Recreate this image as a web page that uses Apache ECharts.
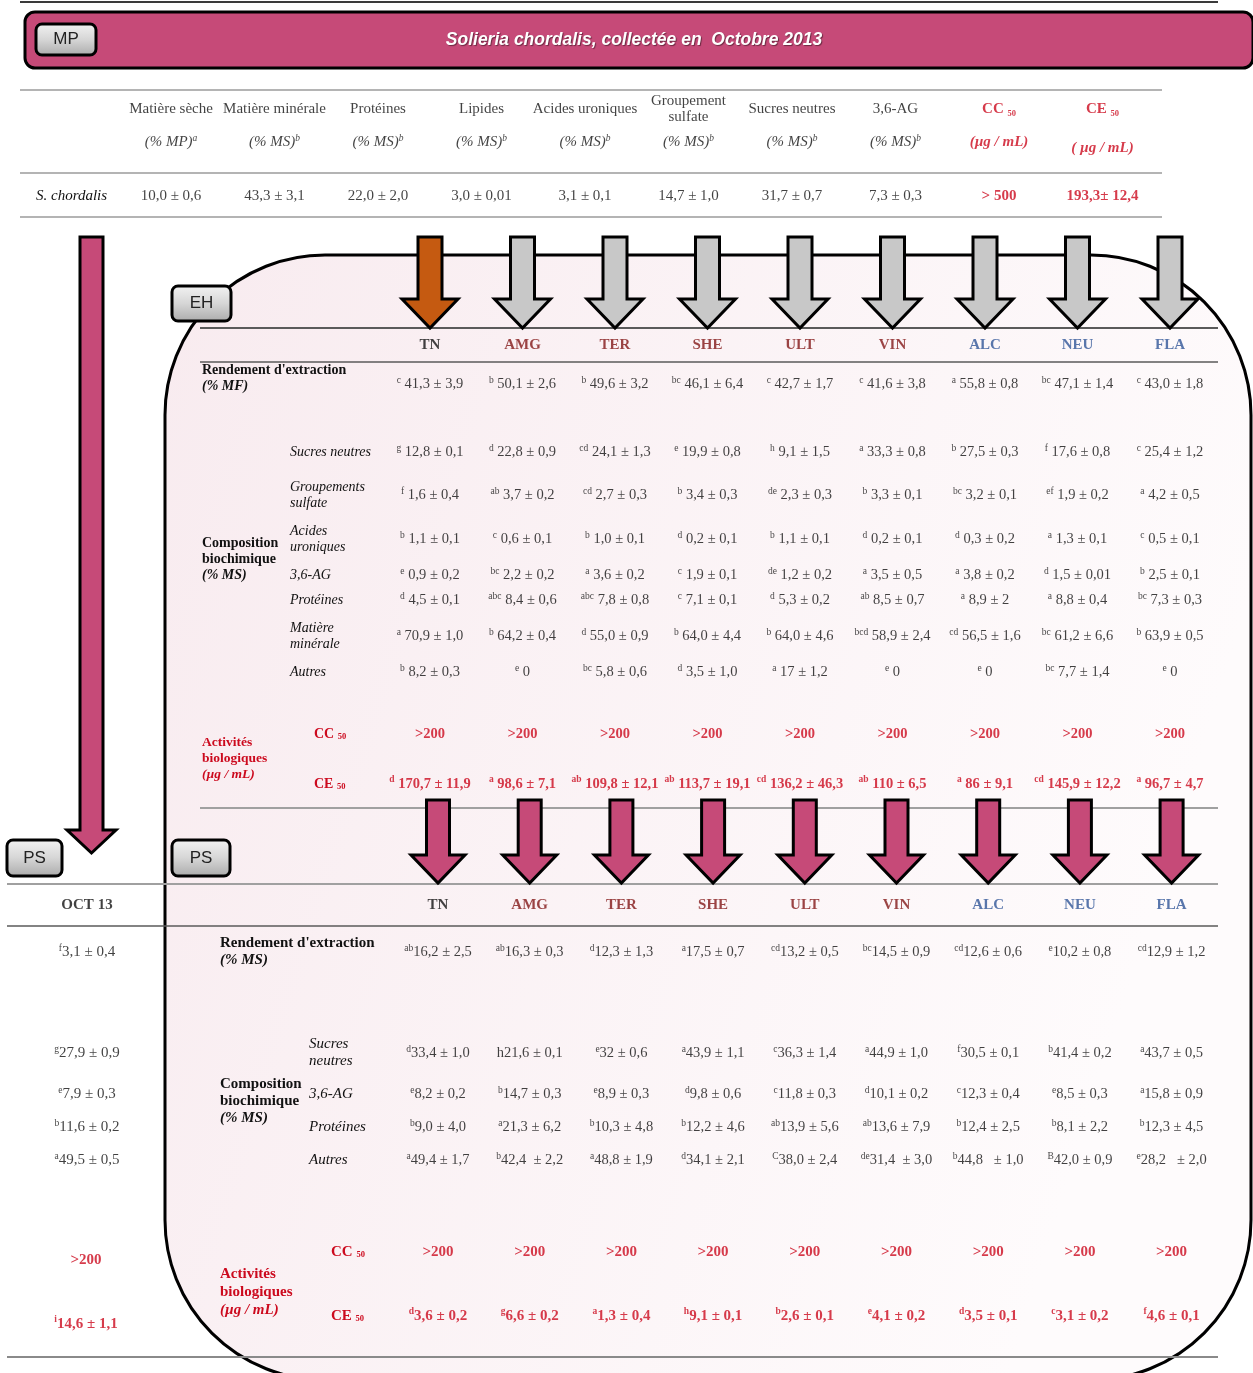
<!DOCTYPE html>
<html><head><meta charset="utf-8">
<script src="https://cdn.jsdelivr.net/npm/echarts@6/dist/echarts.min.js"></script>
<style>html,body{margin:0;padding:0;background:#fff}#c{width:1253px;height:1373px}</style>
</head><body><div id="c"></div>
<script>
// ================= DATA =================
// Raw material (MP)
const mpTitle = 'Solieria chordalis, collectée en  Octobre 2013';
const mpColumns = ['Matière sèche','Matière minérale','Protéines','Lipides','Acides uroniques','Groupement\nsulfate','Sucres neutres','3,6-AG','CC 50','CE 50'];
const mpUnits = ['(% MP)','(% MS)','(% MS)','(% MS)','(% MS)','(% MS)','(% MS)','(% MS)','(µg / mL)','( µg / mL)'];
const mpUnitNotes = ['a','b','b','b','b','b','b','b','',''];
const mpSample = 'S. chordalis';
const mpValues = ['10,0 ± 0,6','43,3 ± 3,1','22,0 ± 2,0','3,0 ± 0,01','3,1 ± 0,1','14,7 ± 1,0','31,7 ± 0,7','7,3 ± 0,3','> 500','193,3± 12,4'];

// Extracts
const extracts = ['TN','AMG','TER','SHE','ULT','VIN','ALC','NEU','FLA'];
const extractGroups = ['ref','red','red','red','red','red','blue','blue','blue'];

// EH extracts
const ehRendLabel = "Rendement d'extraction";
const ehRendUnit = '(% MF)';
const ehRendLetters = ['c','b','b','bc','c','c','a','bc','c'];
const ehRendValues = ['41,3 ± 3,9','50,1 ± 2,6','49,6 ± 3,2','46,1 ± 6,4','42,7 ± 1,7','41,6 ± 3,8','55,8 ± 0,8','47,1 ± 1,4','43,0 ± 1,8'];
const ehCompRows = ['Sucres neutres','Groupements\nsulfate','Acides\nuroniques','3,6-AG','Protéines','Matière\nminérale','Autres'];
const ehCompLetters = [
  ['g','d','cd','e','h','a','b','f','c'],
  ['f','ab','cd','b','de','b','bc','ef','a'],
  ['b','c','b','d','b','d','d','a','c'],
  ['e','bc','a','c','de','a','a','d','b'],
  ['d','abc','abc','c','d','ab','a','a','bc'],
  ['a','b','d','b','b','bcd','cd','bc','b'],
  ['b','e','bc','d','a','e','e','bc','e']
];
const ehCompValues = [
  ['12,8 ± 0,1','22,8 ± 0,9','24,1 ± 1,3','19,9 ± 0,8','9,1 ± 1,5','33,3 ± 0,8','27,5 ± 0,3','17,6 ± 0,8','25,4 ± 1,2'],
  ['1,6 ± 0,4','3,7 ± 0,2','2,7 ± 0,3','3,4 ± 0,3','2,3 ± 0,3','3,3 ± 0,1','3,2 ± 0,1','1,9 ± 0,2','4,2 ± 0,5'],
  ['1,1 ± 0,1','0,6 ± 0,1','1,0 ± 0,1','0,2 ± 0,1','1,1 ± 0,1','0,2 ± 0,1','0,3 ± 0,2','1,3 ± 0,1','0,5 ± 0,1'],
  ['0,9 ± 0,2','2,2 ± 0,2','3,6 ± 0,2','1,9 ± 0,1','1,2 ± 0,2','3,5 ± 0,5','3,8 ± 0,2','1,5 ± 0,01','2,5 ± 0,1'],
  ['4,5 ± 0,1','8,4 ± 0,6','7,8 ± 0,8','7,1 ± 0,1','5,3 ± 0,2','8,5 ± 0,7','8,9 ± 2','8,8 ± 0,4','7,3 ± 0,3'],
  ['70,9 ± 1,0','64,2 ± 0,4','55,0 ± 0,9','64,0 ± 4,4','64,0 ± 4,6','58,9 ± 2,4','56,5 ± 1,6','61,2 ± 6,6','63,9 ± 0,5'],
  ['8,2 ± 0,3','0','5,8 ± 0,6','3,5 ± 1,0','17 ± 1,2','0','0','7,7 ± 1,4','0']
];
const actRows = ['CC', 'CE'];
const ehCC50 = ['>200','>200','>200','>200','>200','>200','>200','>200','>200'];
const ehCE50Letters = ['d','a','ab','ab','cd','ab','a','cd','a'];
const ehCE50Values = ['170,7 ± 11,9','98,6 ± 7,1','109,8 ± 12,1','113,7 ± 19,1','136,2 ± 46,3','110 ± 6,5','86 ± 9,1','145,9 ± 12,2','96,7 ± 4,7'];

// PS (polysaccharides)
const psRendUnit = '(% MS)';
const psRendLetters = ['ab','ab','d','a','cd','bc','cd','e','cd'];
const psRendValues = ['16,2 ± 2,5','16,3 ± 0,3','12,3 ± 1,3','17,5 ± 0,7','13,2 ± 0,5','14,5 ± 0,9','12,6 ± 0,6','10,2 ± 0,8','12,9 ± 1,2'];
const psCompRows = ['Sucres\nneutres','3,6-AG','Protéines','Autres'];
const psCompLetters = [
  ['d','','e','a','c','a','f','b','a'],
  ['e','b','e','d','c','d','c','e','a'],
  ['b','a','b','b','ab','ab','b','b','b'],
  ['a','b','a','d','C','de','b','B','e']
];
const psCompValues = [
  ['33,4 ± 1,0','h21,6 ± 0,1','32 ± 0,6','43,9 ± 1,1','36,3 ± 1,4','44,9 ± 1,0','30,5 ± 0,1','41,4 ± 0,2','43,7 ± 0,5'],
  ['8,2 ± 0,2','14,7 ± 0,3','8,9 ± 0,3','9,8 ± 0,6','11,8 ± 0,3','10,1 ± 0,2','12,3 ± 0,4','8,5 ± 0,3','15,8 ± 0,9'],
  ['9,0 ± 4,0','21,3 ± 6,2','10,3 ± 4,8','12,2 ± 4,6','13,9 ± 5,6','13,6 ± 7,9','12,4 ± 2,5','8,1 ± 2,2','12,3 ± 4,5'],
  ['49,4 ± 1,7','42,4  ± 2,2','48,8 ± 1,9','34,1 ± 2,1','38,0 ± 2,4','31,4  ± 3,0','44,8   ± 1,0','42,0 ± 0,9','28,2   ± 2,0']
];
const psCC50 = ['>200','>200','>200','>200','>200','>200','>200','>200','>200'];
const psCE50Letters = ['d','g','a','h','b','e','d','c','f'];
const psCE50Values = ['3,6 ± 0,2','6,6 ± 0,2','1,3 ± 0,4','9,1 ± 0,1','2,6 ± 0,1','4,1 ± 0,2','3,5 ± 0,1','3,1 ± 0,2','4,6 ± 0,1'];

// Reference column (OCT 13)
const refName = 'OCT 13';
const refRendLetter = 'f', refRendValue = '3,1 ± 0,4';
const refCompLetters = ['g','e','b','a'];
const refCompValues = ['27,9 ± 0,9','7,9 ± 0,3','11,6 ± 0,2','49,5 ± 0,5'];
const refCC50 = '>200';
const refCE50Letter = 'i', refCE50Value = '14,6 ± 1,1';

// ================= STYLE =================
const SERIF = '"Liberation Serif", "Times New Roman", serif';
const SANS = '"Liberation Sans", Arial, sans-serif';
const RED = '#cc0a1e', DRED = '#821616', BLUE = '#2f5597', INK = '#111111';
const PINK = '#c64a78', GRAY_ARROW = '#c8c8c8', ORANGE = '#c55a11';
const groupColor = {ref: INK, red: DRED, blue: BLUE};

const option = {animation: false, grid: [], xAxis: [], yAxis: [], series: [], graphic: {elements: []}};

function sup(l, v, gap) { return l ? '{s|' + l + '}' + gap + v : v; }
function sub50(t) { return t.replace(' 50', ' {sub|50}'); }

const baseRich = {
  s: {fontSize: 9.5, lineHeight: 10, verticalAlign: 'top'},
  sub: {fontSize: 8.5, lineHeight: 10, verticalAlign: 'bottom'}
};

function addTable(cfg) {
  const gi = option.grid.length;
  const nC = cfg.cols.length, nR = cfg.rows.length;
  const left = cfg.x0 - cfg.dx / 2;
  option.grid.push({left: left, top: cfg.y0 - cfg.dy / 2, width: cfg.dx * nC, height: cfg.dy * nR, show: false});
  option.xAxis.push({type: 'category', gridIndex: gi, data: cfg.cols, show: false});
  const yl = cfg.rowLabel;
  option.yAxis.push({
    type: 'category', gridIndex: gi, data: cfg.rows, inverse: true, show: !!yl,
    axisLine: {show: false}, axisTick: {show: false}, splitLine: {show: false},
    axisLabel: yl ? Object.assign({interval: 0, align: 'left', margin: left - yl.x, fontFamily: SERIF,
      fontSize: 14, color: INK, rich: baseRich}, yl.style) : {show: false}
  });
  const data = [];
  cfg.cells.forEach((row, r) => row.forEach((cell, c) => {
    if (cell == null) return;
    const item = {value: [c, r], txt: typeof cell === 'string' ? cell : cell.txt};
    if (cell.label) item.label = cell.label;
    data.push(item);
  }));
  option.series.push({
    type: 'scatter', xAxisIndex: gi, yAxisIndex: gi, symbolSize: 1, silent: true,
    itemStyle: {color: 'rgba(0,0,0,0)'}, data: data,
    label: Object.assign({show: true, position: 'inside', formatter: p => p.data.txt,
      fontFamily: SERIF, fontSize: 14.5, color: INK, lineHeight: 18, rich: baseRich}, cfg.label || {})
  });
  return gi;
}

function addArrows(gi, fills, g) {
  option.series.push({
    type: 'custom', xAxisIndex: gi, yAxisIndex: gi, silent: true, z: 3, clip: false,
    data: fills.map((f, i) => [i, 0]),
    renderItem: (params, api) => {
      const p = api.coord([api.value(0), api.value(1)]);
      const x = p[0], y = p[1], sw = g.shaft / 2, hw = g.head / 2;
      return {type: 'polygon', shape: {points: [[x - sw, y + g.top], [x + sw, y + g.top], [x + sw, y + g.base], [x + hw, y + g.base], [x, y + g.tip], [x - hw, y + g.base], [x - sw, y + g.base]]},
        style: {fill: fills[params.dataIndex], stroke: '#000', lineWidth: 3, lineJoin: 'miter'}};
    }
  });
}

// ================= DECORATION =================
const G = option.graphic.elements;
function hline(x1, x2, y, color, w) {
  G.push({type: 'rect', silent: true, z: 1, shape: {x: x1, y: y - w / 2, width: x2 - x1, height: w}, style: {fill: color}});
}
function button(x, y, w, h, text) {
  G.push({type: 'rect', silent: true, z: 5, shape: {x: x, y: y, width: w, height: h, r: 6},
    style: {fill: new echarts.graphic.LinearGradient(0, 0, 0, 1, [{offset: 0, color: '#f4f4f4'}, {offset: 0.5, color: '#d6d6d6'}, {offset: 1, color: '#a9a9a9'}]), stroke: '#000', lineWidth: 3}});
  G.push({type: 'text', silent: true, z: 6, x: x + w / 2, y: y + h / 2,
    style: {text: text, align: 'center', verticalAlign: 'middle', fill: '#222', fontFamily: SANS, fontSize: 17}});
}

hline(20, 1218, 2, '#3a3a3a', 2);
G.push({type: 'rect', silent: true, z: 1, shape: {x: 25, y: 12, width: 1228, height: 56, r: 10},
  style: {fill: PINK, stroke: '#000', lineWidth: 3}});
G.push({type: 'text', silent: true, z: 6, x: 634, y: 40,
  style: {text: mpTitle, align: 'center', verticalAlign: 'middle', fill: '#fff', fontFamily: SANS, fontSize: 17.5,
    fontWeight: 'bold', fontStyle: 'italic', textShadowColor: 'rgba(0,0,0,0.45)', textShadowOffsetX: 1, textShadowOffsetY: 1, textShadowBlur: 1}});
button(36, 24, 60, 31, 'MP');
hline(20, 1162, 90, '#b4b4b4', 2);
hline(20, 1162, 173, '#b4b4b4', 2);
hline(20, 1162, 217, '#b4b4b4', 2);

G.push({type: 'rect', silent: true, z: 0, shape: {x: 165, y: 255, width: 1086, height: 1125, r: 160},
  style: {fill: new echarts.graphic.LinearGradient(0, 0, 1, 0.3, [{offset: 0, color: '#f8ebef'}, {offset: 1, color: '#fefbfc'}]), stroke: '#000', lineWidth: 3}});
G.push({type: 'polygon', silent: true, z: 2, shape: {points: [[80, 237], [103, 237], [103, 830], [116, 830], [91.5, 853], [67, 830], [80, 830]]},
  style: {fill: PINK, stroke: '#000', lineWidth: 3, lineJoin: 'miter'}});
button(172, 286, 59, 35, 'EH');
button(7, 840, 55, 36, 'PS');
button(172, 840, 58, 36, 'PS');

hline(200, 1218, 328, '#5a5a5a', 2);
hline(200, 1218, 362, '#5a5a5a', 1.5);
hline(200, 1218, 808, '#a0a0a0', 2);
hline(7, 1218, 884, '#a0a0a0', 2);
hline(7, 1218, 926, '#5a5a5a', 1.5);
hline(7, 1218, 1357, '#8a8a8a', 2);

function groupLabel(x, y, l1, l2, l3, color, size, lh) {
  G.push({type: 'text', silent: true, z: 6, x: x, y: y,
    style: {text: l1 + '\n' + l2 + '\n{i|' + l3 + '}', align: 'left', verticalAlign: 'top', fill: color,
      fontFamily: SERIF, fontSize: size, fontWeight: 'bold', lineHeight: lh,
      rich: {i: {fontStyle: 'italic', fontWeight: 'bold', fontFamily: SERIF, fontSize: size, lineHeight: lh, fill: color}}}});
}
groupLabel(202, 535, 'Composition', 'biochimique', '(% MS)', INK, 14, 16);
groupLabel(202, 735, 'Activités', 'biologiques', '(µg / mL)', RED, 13.5, 16);
groupLabel(220, 1076, 'Composition', 'biochimique', '(% MS)', INK, 15, 17);
groupLabel(220, 1265, 'Activités', 'biologiques', '(µg / mL)', RED, 15, 18);

// ================= TABLES =================
const isAct = n => n.indexOf('50') >= 0;
addTable({cols: mpColumns, rows: ['name', 'unit'], x0: 171, dx: 103.5, y0: 109, dy: 33,
  label: {fontSize: 15},
  cells: [
    mpColumns.map(n => isAct(n) ? {txt: sub50(n), label: {color: RED, fontWeight: 'bold'}} : {txt: n, label: {lineHeight: 16}}),
    mpUnits.map((u, i) => isAct(mpColumns[i]) ? {txt: u, label: {color: RED, fontWeight: 'bold', fontStyle: 'italic', offset: [0, i === 9 ? 6 : 0]}}
      : {txt: u + (mpUnitNotes[i] ? '{s|' + mpUnitNotes[i] + '}' : ''), label: {fontStyle: 'italic'}})
  ]});
addTable({cols: mpColumns, rows: [mpSample], x0: 171, dx: 103.5, y0: 196, dy: 30,
  rowLabel: {x: 36, style: {fontStyle: 'italic', fontSize: 15}},
  label: {fontSize: 15},
  cells: [mpValues.map((v, i) => isAct(mpColumns[i]) ? {txt: v, label: {color: RED, fontWeight: 'bold'}} : v)]});

// EH
const EX0 = 430, EDX = 92.5;
const ehHead = addTable({cols: extracts, rows: ['h'], x0: EX0, dx: EDX, y0: 345, dy: 30,
  label: {fontSize: 15, fontWeight: 'bold'},
  cells: [extracts.map((e, i) => ({txt: e, label: {color: groupColor[extractGroups[i]]}}))]});
addArrows(ehHead, extractGroups.map(g => g === 'ref' ? ORANGE : GRAY_ARROW), {top: -108, base: -46, tip: -17, shaft: 24, head: 56});
addTable({cols: extracts, rows: [ehRendLabel], x0: EX0, dx: EDX, y0: 384, dy: 30,
  rowLabel: {x: 202, style: {formatter: v => '{b|' + v + '}\n{i|' + ehRendUnit + '}', lineHeight: 16, padding: [0, 0, 12, 0],
    rich: {b: {fontWeight: 'bold', fontFamily: SERIF, fontSize: 14, lineHeight: 16}, i: {fontStyle: 'italic', fontWeight: 'bold', fontFamily: SERIF, fontSize: 14, lineHeight: 16}}}},
  cells: [ehRendValues.map((v, i) => sup(ehRendLetters[i], v, ' '))]});
const ehCompStyle = {fontStyle: 'italic', fontSize: 14, lineHeight: 16};
function ehComp(from, to, y0, dy) {
  addTable({cols: extracts, rows: ehCompRows.slice(from, to), x0: EX0, dx: EDX, y0: y0, dy: dy,
    rowLabel: {x: 290, style: ehCompStyle},
    cells: ehCompValues.slice(from, to).map((row, r) => row.map((v, i) => sup(ehCompLetters[from + r][i], v, ' ')))});
}
ehComp(0, 3, 452, 43.5);
ehComp(3, 5, 575, 25);
ehComp(5, 7, 636, 36);
addTable({cols: extracts, rows: actRows, x0: EX0, dx: EDX, y0: 734, dy: 50,
  rowLabel: {x: 314, style: {formatter: v => v + ' {sub|50}', color: RED, fontWeight: 'bold', fontSize: 14}},
  label: {color: RED, fontWeight: 'bold', fontSize: 14.5},
  cells: [ehCC50.slice(), ehCE50Values.map((v, i) => sup(ehCE50Letters[i], v, ' '))]});

// PS
const PX0 = 438, PDX = 91.7;
const psHead = addTable({cols: extracts, rows: ['h'], x0: PX0, dx: PDX, y0: 905, dy: 30,
  label: {fontSize: 15, fontWeight: 'bold'},
  cells: [extracts.map((e, i) => ({txt: e, label: {color: groupColor[extractGroups[i]]}}))]});
addArrows(psHead, extracts.map(() => PINK), {top: -105, base: -50, tip: -22, shaft: 23, head: 54});
addTable({cols: extracts, rows: [ehRendLabel], x0: PX0, dx: PDX, y0: 952, dy: 30,
  rowLabel: {x: 220, style: {formatter: v => '{b|' + v + '}\n{i|' + psRendUnit + '}', lineHeight: 17, padding: [0, 0, 0, 0],
    rich: {b: {fontWeight: 'bold', fontFamily: SERIF, fontSize: 15, lineHeight: 17}, i: {fontStyle: 'italic', fontWeight: 'bold', fontFamily: SERIF, fontSize: 15, lineHeight: 17}}}},
  cells: [psRendValues.map((v, i) => sup(psRendLetters[i], v, ''))]});
const psCompStyle = {fontStyle: 'italic', fontSize: 15, lineHeight: 17};
function psComp(from, to, y0, dy) {
  addTable({cols: extracts, rows: psCompRows.slice(from, to), x0: PX0, dx: PDX, y0: y0, dy: dy,
    rowLabel: {x: 309, style: psCompStyle},
    cells: psCompValues.slice(from, to).map((row, r) => row.map((v, i) => sup(psCompLetters[from + r][i], v, '')))});
}
psComp(0, 1, 1053, 30);
psComp(1, 4, 1094, 33);
addTable({cols: extracts, rows: actRows, x0: PX0, dx: PDX, y0: 1252, dy: 64,
  rowLabel: {x: 331, style: {formatter: v => v + ' {sub|50}', color: RED, fontWeight: 'bold', fontSize: 15}},
  label: {color: RED, fontWeight: 'bold', fontSize: 15},
  cells: [psCC50.slice(), psCE50Values.map((v, i) => sup(psCE50Letters[i], v, ''))]});

// Reference column
addTable({cols: [refName], rows: ['h', 'r'], x0: 87, dx: 120, y0: 905, dy: 47,
  label: {fontSize: 15},
  cells: [[{txt: refName, label: {fontWeight: 'bold'}}], [sup(refRendLetter, refRendValue, '')]]});
addTable({cols: [refName], rows: ['c0'], x0: 87, dx: 120, y0: 1053, dy: 30,
  label: {fontSize: 15},
  cells: [[sup(refCompLetters[0], refCompValues[0], '')]]});
addTable({cols: [refName], rows: ['c1', 'c2', 'c3'], x0: 87, dx: 120, y0: 1094, dy: 33,
  label: {fontSize: 15},
  cells: [1, 2, 3].map(k => [sup(refCompLetters[k], refCompValues[k], '')])});
addTable({cols: [refName], rows: actRows, x0: 86, dx: 120, y0: 1260, dy: 64,
  label: {color: RED, fontWeight: 'bold', fontSize: 15},
  cells: [[refCC50], [sup(refCE50Letter, refCE50Value, '')]]});

const chart = echarts.init(document.getElementById('c'), null, {renderer: 'canvas'});
chart.setOption(option);
</script>
</body></html>
